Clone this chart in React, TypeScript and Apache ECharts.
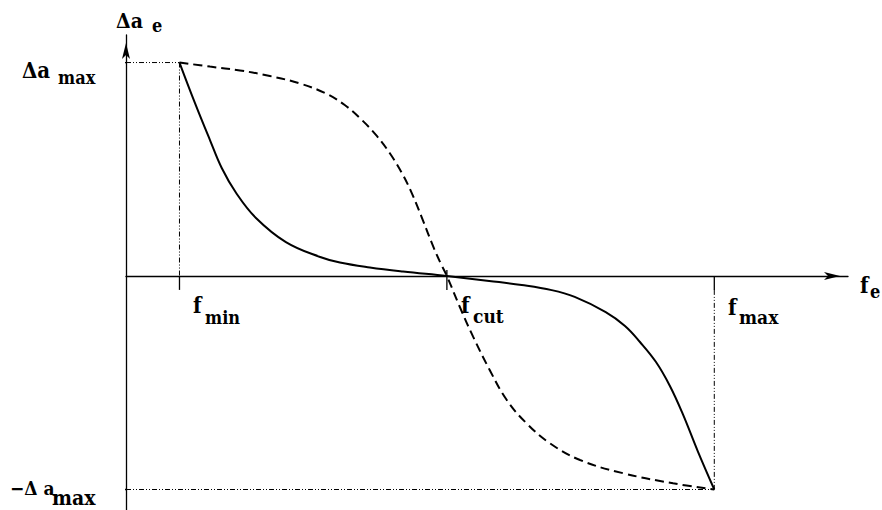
import React, { useEffect, useRef } from "react";
import * as echarts from "echarts";

// x units: y-axis = 0, f_min = 10, f_cut = 60, f_max = 110 ; y units: Δa_max = 1
const solidX = [10, 12.9, 15.7, 17.9, 20.6, 24.3, 29.9, 36.3, 40.0, 45.6, 51.8, 60, 67.9, 74.0, 79.6, 83.9, 89.7, 93.3, 96.1, 99.1, 101.7, 104.1, 106.9, 110];
const solidY = [1, 0.81, 0.637, 0.506, 0.389, 0.272, 0.159, 0.089, 0.063, 0.04, 0.021, 0, -0.023, -0.042, -0.066, -0.098, -0.169, -0.234, -0.309, -0.403, -0.515, -0.646, -0.82, -1];

const dashedX = [10, 15.7, 21.3, 26.9, 32.5, 37.2, 40.9, 44.1, 46.9, 49.3, 51.6, 53.6, 55.5, 57.4, 58.9, 60, 62.4, 64.9, 68.0, 71.2, 74.9, 79.3, 84.9, 93.0, 102.3, 110];
const dashedY = [1, 0.981, 0.963, 0.937, 0.902, 0.857, 0.801, 0.731, 0.656, 0.576, 0.482, 0.379, 0.262, 0.141, 0.056, 0, -0.144, -0.284, -0.44, -0.581, -0.69, -0.784, -0.862, -0.924, -0.971, -1];

const fMin = 10;
const fCut = 60;
const fMax = 110;
const aMax = 1;

const FAMILY = "DejaVu Serif Condensed, DejaVu Serif";

function zip(xs: number[], ys: number[]) {
  return xs.map((x, i) => [x, ys[i]]);
}

export default function App() {
  const ref = useRef<HTMLDivElement>(null);
  useEffect(() => {
    if (!ref.current) return;
    const chart = echarts.init(ref.current, null, { renderer: "svg" });
    const dashDot = [5, 2, 1, 2, 1, 2];
    const guide = (data: number[][], type: any, width = 1) => ({
      type: "line",
      data,
      symbol: "none",
      silent: true,
      clip: false,
      lineStyle: { color: "#000", width, type },
      z: 1,
    });
    const txt = (text: string, x: number, baseline: number, size: number) => ({
      type: "text",
      style: {
        text,
        x,
        y: baseline - 0.35 * size,
        fill: "#000",
        fontSize: size,
        fontWeight: "bold",
        fontFamily: FAMILY,
        verticalAlign: "middle",
        align: "left",
      },
    });
    chart.setOption({
      animation: false,
      backgroundColor: "#fff",
      grid: { left: 126, right: 34, top: 35, bottom: 0 },
      xAxis: {
        type: "value",
        min: 0,
        max: 135,
        splitLine: { show: false },
        axisTick: { show: false },
        axisLabel: { show: false },
        axisLine: {
          onZero: true,
          symbol: ["none", "arrow"],
          symbolSize: [6, 16],
          symbolOffset: [0, -8],
          lineStyle: { color: "#000", width: 1.3 },
        },
      },
      yAxis: {
        type: "value",
        min: -1.096,
        max: 1.129,
        splitLine: { show: false },
        axisTick: { show: false },
        axisLabel: { show: false },
        axisLine: {
          onZero: true,
          symbol: ["none", "arrow"],
          symbolSize: [6, 16],
          symbolOffset: [0, -8],
          lineStyle: { color: "#000", width: 1.3 },
        },
      },
      series: [
        guide([[0, aMax], [fMin, aMax]], dashDot),
        guide([[fMin, aMax], [fMin, 0]], dashDot),
        guide([[fMax, -0.065], [fMax, -aMax]], dashDot),
        guide([[0, -aMax], [fMax, -aMax]], dashDot),
        guide([[-2.6, aMax], [0, aMax]], "solid", 1.3),
        guide([[-2.6, -aMax], [0, -aMax]], "solid", 1.3),
        guide([[-2.6, 0], [-1.7, 0]], "solid", 1.3),
        guide([[fMin, 0], [fMin, -0.065]], "solid", 1.3),
        guide([[fCut, 0.028], [fCut, -0.065]], "solid", 1.3),
        guide([[fMax, 0], [fMax, -0.065]], "solid", 1.3),
        {
          type: "line",
          data: zip(solidX, solidY),
          smooth: 0.4,
          symbol: "none",
          silent: true,
          lineStyle: { color: "#000", width: 2 },
          z: 3,
        },
        {
          type: "line",
          data: zip(dashedX, dashedY),
          smooth: 0.4,
          symbol: "none",
          silent: true,
          lineStyle: { color: "#000", width: 2, type: [9, 5] },
          z: 3,
        },
      ],
      graphic: [
        txt("\u0394a", 116, 28, 21),
        txt("e", 152, 32, 18),
        txt("\u0394a", 22, 78, 22),
        txt("max", 58, 84, 18),
        txt("\u2212\u0394 a", 10, 495, 19),
        txt("max", 52, 505, 21),
        txt("f", 193, 313, 22),
        txt("min", 205, 324, 18),
        txt("f", 461, 313, 22),
        txt("cut", 473, 323, 19),
        txt("f", 728, 315, 22),
        txt("max", 739, 324, 19),
        txt("f", 860, 293, 22),
        txt("e", 870, 298, 18),
      ],
    });
    return () => chart.dispose();
  }, []);
  return (
    <div
      ref={ref}
      style={{ position: "fixed", left: 0, top: 0, width: 882, height: 510, background: "#fff" }}
    />
  );
}
